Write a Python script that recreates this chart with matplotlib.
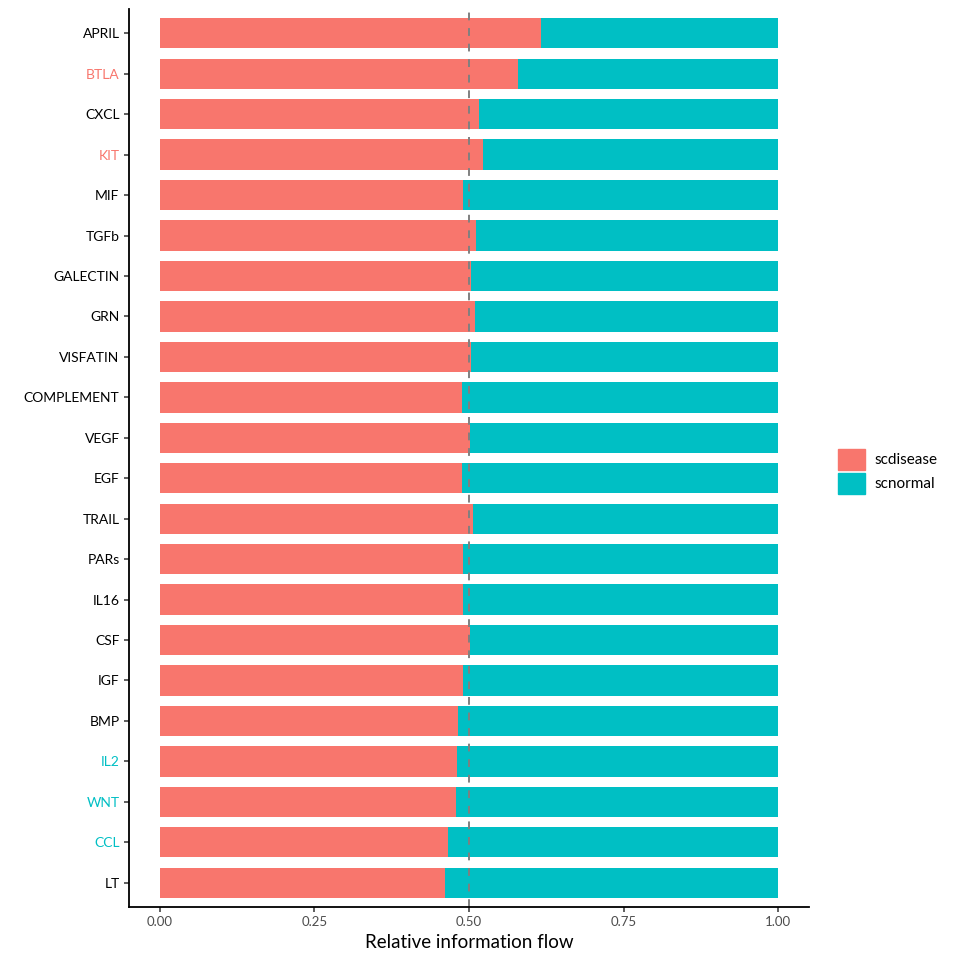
import numpy as np
import matplotlib
matplotlib.use("Agg")
import matplotlib.pyplot as plt
from matplotlib.patches import Patch

plt.rcParams['font.family'] = ['Lato', 'DejaVu Sans']

# pathways, top to bottom
pathways = ['APRIL', 'BTLA', 'CXCL', 'KIT', 'MIF', 'TGFb', 'GALECTIN', 'GRN',
            'VISFATIN', 'COMPLEMENT', 'VEGF', 'EGF', 'TRAIL', 'PARs', 'IL16',
            'CSF', 'IGF', 'BMP', 'IL2', 'WNT', 'CCL', 'LT']
# relative flow of scdisease (scnormal is the rest)
disease = [0.616, 0.579, 0.517, 0.522, 0.491, 0.511, 0.503, 0.509,
           0.504, 0.488, 0.501, 0.488, 0.506, 0.491, 0.490,
           0.501, 0.490, 0.483, 0.480, 0.479, 0.466, 0.462]
normal = [1 - v for v in disease]
# label colour: which group is significantly enriched
enriched = {'BTLA': 'scdisease', 'KIT': 'scdisease',
            'IL2': 'scnormal', 'WNT': 'scnormal', 'CCL': 'scnormal'}

col_dis = '#F8766D'
col_nor = '#00BFC4'

fig = plt.figure(figsize=(9.6, 9.6), dpi=100)
ax = fig.add_axes([0.134, 0.0552, 0.709, 0.9354])

y = np.arange(len(pathways))[::-1] + 1
ax.barh(y, disease, height=0.75, color=col_dis, label='scdisease')
ax.barh(y, normal, left=disease, height=0.75, color=col_nor, label='scnormal')
ax.axvline(0.5, color='#808080', ls=(0, (4, 4)), lw=1.4)

ax.set_xlim(-0.05, 1.05)
ax.set_ylim(0.4, len(pathways) + 0.6)
ax.set_xticks([0, 0.25, 0.5, 0.75, 1.0])
ax.set_xticklabels(['0.00', '0.25', '0.50', '0.75', '1.00'], color='#4D4D4D', fontsize=9.5)
ax.set_yticks(y)
ax.set_yticklabels(pathways, fontsize=10)
for lab in ax.get_yticklabels():
    g = enriched.get(lab.get_text())
    lab.set_color(col_dis if g == 'scdisease' else col_nor if g == 'scnormal' else 'black')

ax.set_xlabel('Relative information flow', fontsize=13.5, labelpad=4)
for s in ['top', 'right']:
    ax.spines[s].set_visible(False)
for s in ['left', 'bottom']:
    ax.spines[s].set_linewidth(1.3)
ax.tick_params(length=3.5, width=1.1, color='#333333', pad=3)

handles = [Patch(color=col_dis), Patch(color=col_nor)]
fig.legend(handles, ['scdisease', 'scnormal'], loc='center left',
           bbox_to_anchor=(0.873, 0.509), frameon=False, fontsize=11,
           handlelength=1.75, handleheight=1.75, handletextpad=0.65,
           labelspacing=0.2, borderaxespad=0, borderpad=0)

fig.savefig('out.png', dpi=100)
